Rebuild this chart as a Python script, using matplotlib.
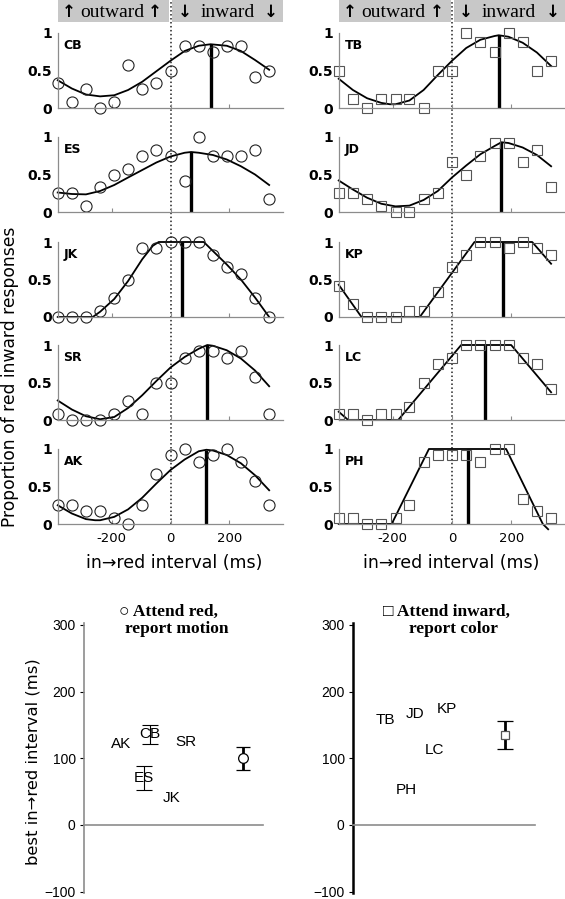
import matplotlib
matplotlib.use('Agg')
import matplotlib.pyplot as plt

W, H = 565, 899

# in->red interval of each condition (ms)
soa = [-383, -335, -287, -239, -191, -144, -96, -48, 0, 48, 96, 144, 191, 239, 287, 335]

# attend red, report motion (circles)
red_names = ['CB', 'ES', 'JK', 'SR', 'AK']
cb = [0.33, 0.08, 0.25, 0, 0.08, 0.58, 0.25, 0.33, 0.5, 0.83, 0.83, 0.75, 0.83, 0.83, 0.42, 0.5]
es = [0.25, 0.25, 0.08, 0.33, 0.5, 0.58, 0.75, 0.83, 0.75, 0.42, 1.0, 0.75, 0.75, 0.75, 0.83, 0.17]
jk = [0, 0, 0, 0.08, 0.25, 0.5, 0.92, 0.92, 1, 1, 1, 0.83, 0.67, 0.58, 0.25, 0]
sr = [0.08, 0, 0, 0, 0.08, 0.25, 0.08, 0.5, 0.5, 0.83, 0.92, 0.92, 0.83, 0.92, 0.58, 0.08]
ak = [0.25, 0.25, 0.17, 0.17, 0.08, 0, 0.25, 0.67, 0.92, 1.0, 0.83, 0.92, 1.0, 0.83, 0.58, 0.25]

# fitted curves
cb_fx = [-383, -335, -287, -239, -191, -144, -96, -48, 0, 48, 96, 136, 191, 239, 287, 335]
cb_fy = [0.37, 0.26, 0.18, 0.155, 0.17, 0.24, 0.35, 0.49, 0.63, 0.76, 0.83, 0.85, 0.83, 0.76, 0.64, 0.51]
es_fx = [-383, -335, -287, -239, -191, -144, -96, -48, 0, 48, 70, 96, 144, 191, 239, 287, 335]
es_fy = [0.26, 0.24, 0.235, 0.28, 0.36, 0.46, 0.56, 0.66, 0.74, 0.79, 0.80, 0.79, 0.76, 0.70, 0.61, 0.50, 0.36]
jk_fx = [-383, -264, -239, -191, -144, -96, -60, -40, 113, 144, 191, 239, 287, 335]
jk_fy = [0, 0, 0.07, 0.24, 0.48, 0.77, 0.95, 1, 1, 0.88, 0.70, 0.50, 0.26, 0.0]
sr_fx = [-383, -335, -287, -239, -191, -144, -96, -48, 0, 48, 96, 125, 144, 191, 239, 287, 335]
sr_fy = [0.26, 0.14, 0.05, 0.01, 0.04, 0.16, 0.33, 0.52, 0.70, 0.84, 0.95, 1.0, 0.99, 0.93, 0.82, 0.66, 0.45]
ak_fx = [-383, -335, -287, -256, -239, -191, -144, -96, -48, 0, 48, 96, 122, 144, 191, 239, 287, 335]
ak_fy = [0.25, 0.14, 0.065, 0.05, 0.05, 0.095, 0.195, 0.35, 0.54, 0.72, 0.86, 0.97, 0.99, 0.98, 0.92, 0.81, 0.65, 0.45]

red_best = [136, 70, 40, 125, 122]
red_peak = [0.85, 0.80, 1.0, 1.0, 0.99]
red_sem = [14, 18, 0, 0, 0]
red_lab_x = [3.66, 3.35, 4.9, 5.7, 2.07]
red_mean, red_mean_sem = 100, 17.5

# attend inward, report color (squares)
in_names = ['TB', 'JD', 'KP', 'LC', 'PH']
tb = [0.5, 0.125, 0, 0.125, 0.125, 0.125, 0, 0.5, 0.5, 1.0, 0.875, 0.75, 1.0, 0.875, 0.5, 0.625]
jd = [0.25, 0.25, 0.17, 0.08, 0, 0, 0.17, 0.25, 0.67, 0.5, 0.75, 0.92, 0.92, 0.67, 0.83, 0.33]
kp = [0.42, 0.17, 0, 0, 0, 0.08, 0.08, 0.33, 0.67, 0.83, 1, 1, 0.92, 1, 0.92, 0.83]
lc = [0.08, 0.08, 0, 0.08, 0.08, 0.17, 0.5, 0.75, 0.83, 1, 1, 1, 1, 0.83, 0.75, 0.42]
ph = [0.08, 0.08, 0, 0, 0.08, 0.25, 0.83, 0.92, 0.92, 0.92, 0.83, 1, 1, 0.33, 0.17, 0.08]

tb_fx = [-383, -335, -287, -239, -210, -191, -144, -96, -48, 0, 48, 96, 144, 158, 191, 239, 287, 335]
tb_fy = [0.39, 0.24, 0.13, 0.068, 0.05, 0.05, 0.10, 0.24, 0.44, 0.63, 0.80, 0.91, 0.96, 0.97, 0.95, 0.87, 0.74, 0.56]
jd_fx = [-383, -335, -287, -239, -191, -144, -96, -48, 0, 48, 96, 144, 167, 191, 239, 287, 335]
jd_fy = [0.42, 0.30, 0.19, 0.11, 0.075, 0.085, 0.16, 0.28, 0.46, 0.62, 0.77, 0.88, 0.93, 0.92, 0.86, 0.76, 0.61]
kp_fx = [-383, -306, -109, 76, 271, 335]
kp_fy = [0.43, 0, 0, 1, 1, 0.71]
lc_fx = [-383, -351, -182, 31, 200, 335]
lc_fy = [0.11, 0, 0, 1, 1, 0.37]
ph_fx = [-383, -204, -78, 183, 307, 325]
ph_fy = [0, 0, 1, 1, 0, -0.07]

in_best = [158, 167, 174, 113, 53]
in_peak = [0.97, 0.93, 1.0, 1.0, 1.0]
in_lab_x = [1.76, 3.4, 5.15, 4.5, 2.95]
in_mean, in_mean_sem = 135, 20.5

serif = ['Liberation Serif', 'DejaVu Serif', 'DejaVu Sans']
helv = ['Liberation Sans', 'DejaVu Sans']
gray = '#8c8c8c'

fig = plt.figure(figsize=(W / 100, H / 100), dpi=100)


def box(x0, y0, x1, y1):
    # pixel box measured from the top-left corner
    return fig.add_axes([x0 / W, 1 - y1 / H, (x1 - x0) / W, (y1 - y0) / H])


XL = (-382, 382)
cols = [(58, 283), (339, 565)]
zeros = [108, 212, 317, 420, 524]

groups = [
    (red_names, [cb, es, jk, sr, ak],
     [(cb_fx, cb_fy), (es_fx, es_fy), (jk_fx, jk_fy), (sr_fx, sr_fy), (ak_fx, ak_fy)],
     red_best, red_peak, 'o', 8, '#222222'),
    (in_names, [tb, jd, kp, lc, ph],
     [(tb_fx, tb_fy), (jd_fx, jd_fy), (kp_fx, kp_fy), (lc_fx, lc_fy), (ph_fx, ph_fy)],
     in_best, in_peak, 's', 7, '#555555'),
]

for (x0, x1), (names, pts, fits, best, peak, mk, ms, mc) in zip(cols, groups):
    # dotted zero line through the whole column
    ov = box(x0, 0, x1, zeros[-1])
    ov.set_xlim(XL)
    ov.axis('off')
    ov.axvline(0, color='#222222', lw=1.1, ls=(0, (1, 1.6)))

    # header band
    hb = box(x0, 0, x1, 22)
    hb.set_xlim(XL)
    hb.set_ylim(0, 1)
    hb.axis('off')
    hb.axvspan(XL[0], -5, color='#c8c8c8', lw=0)
    hb.axvspan(6, XL[1], color='#c8c8c8', lw=0)
    for xx, s in zip([-346, -52, 48, 340], ['↑', '↑', '↓', '↓']):
        hb.text(xx, 0.45, s, ha='center', va='center', fontsize=12,
                fontweight='bold', family='DejaVu Sans')
    hb.text(-198, 0.45, 'outward', ha='center', va='center', fontsize=14, family=serif)
    hb.text(193, 0.45, 'inward', ha='center', va='center', fontsize=14, family=serif)

    for i, z in enumerate(zeros):
        ax = box(x0, z - 75, x1, z)
        ax.set_xlim(XL)
        ax.set_ylim(0, 1)
        ax.patch.set_alpha(0)
        for s in ['top', 'right']:
            ax.spines[s].set_visible(False)
        for s in ['left', 'bottom']:
            ax.spines[s].set_color(gray)
            ax.spines[s].set_linewidth(0.9)
        fx, fy = fits[i]
        ax.plot(fx, fy, color='k', lw=1.3, clip_on=False)
        ax.plot([best[i], best[i]], [0, peak[i]], color='k', lw=2.4,
                solid_capstyle='butt')
        ax.plot(soa, pts[i], ls='none', marker=mk, ms=ms, mfc='none', mec=mc,
                mew=0.8, clip_on=False)
        ax.set_yticks([0, 0.5, 1])
        ax.set_yticklabels(['0', '0.5', '1'], fontweight='bold', fontsize=10)
        ax.tick_params(axis='y', length=0, pad=4)
        ax.set_xticks([-200, 0, 200])
        ax.set_xticklabels(['-200', '0', '200'])
        ax.tick_params(axis='x', direction='in', length=3, color=gray,
                       labelsize=9.5, pad=6, labelbottom=(i == len(zeros) - 1))
        ax.text(0.025, 0.92, names[i], transform=ax.transAxes, fontweight='bold',
                fontsize=9, va='top', ha='left')

fig.text(174 / W, 1 - 563 / H, 'in→red interval (ms)', ha='center', va='center', fontsize=12.5)
fig.text(451 / W, 1 - 563 / H, 'in→red interval (ms)', ha='center', va='center', fontsize=12.5)
fig.text(10 / W, 1 - 377 / H, 'Proportion of red inward responses', rotation=90,
         ha='center', va='center', fontsize=12.3)

# summary panels
bl = box(84, 623, 263, 893)
br = box(353, 623, 535, 893)
for ax, spine_c, spine_w in [(bl, gray, 1.2), (br, 'k', 1.8)]:
    ax.set_xlim(0, 10)
    ax.set_ylim(-102, 303)
    ax.patch.set_alpha(0)
    ax.spines['top'].set_visible(False)
    ax.spines['right'].set_visible(False)
    ax.spines['bottom'].set_position(('data', 0))
    ax.spines['bottom'].set_color(gray)
    ax.spines['bottom'].set_linewidth(1.2)
    ax.spines['left'].set_color(spine_c)
    ax.spines['left'].set_linewidth(spine_w)
    ax.set_xticks([])
    ax.set_yticks([-100, 0, 100, 200, 300])
    ax.tick_params(axis='y', direction='out', length=3, labelsize=10, pad=3)
    for lab in ax.get_yticklabels():
        lab.set_family(helv)

for n, x, y, e in zip(red_names, red_lab_x, red_best, red_sem):
    bl.text(x, y, n, ha='center', va='center', fontsize=11, family=helv)
    if e > 0:
        bl.errorbar(x, y, yerr=e, fmt='none', ecolor='k', elinewidth=0.8,
                    capsize=6, capthick=0.8)
bl.errorbar(8.9, red_mean, yerr=red_mean_sem, fmt='o', ms=7, mfc='white', mec='k',
            mew=0.9, ecolor='k', elinewidth=2, capsize=4.7, capthick=2)

for n, x, y in zip(in_names, in_lab_x, in_best):
    br.text(x, y, n, ha='center', va='center', fontsize=11, family=helv)
br.errorbar(8.35, in_mean, yerr=in_mean_sem, fmt='s', ms=6, mfc='white', mec='#555555',
            mew=0.9, ecolor='k', elinewidth=2, capsize=6, capthick=2)

fig.text(33 / W, 1 - 762 / H, 'best in→red interval (ms)', rotation=90,
         ha='center', va='center', fontsize=11.8, family='DejaVu Sans')

fig.text(168 / W, 1 - 612 / H, '○ Attend red,', ha='center', va='center',
         fontsize=12.5, fontweight='bold', family=serif)
fig.text(177 / W, 1 - 629 / H, 'report motion', ha='center', va='center',
         fontsize=12.5, fontweight='bold', family=serif)
fig.text(446 / W, 1 - 612 / H, '□ Attend inward,', ha='center', va='center',
         fontsize=12.5, fontweight='bold', family=serif)
fig.text(453 / W, 1 - 629 / H, 'report color', ha='center', va='center',
         fontsize=12.5, fontweight='bold', family=serif)

fig.savefig('out.png', dpi=100)
